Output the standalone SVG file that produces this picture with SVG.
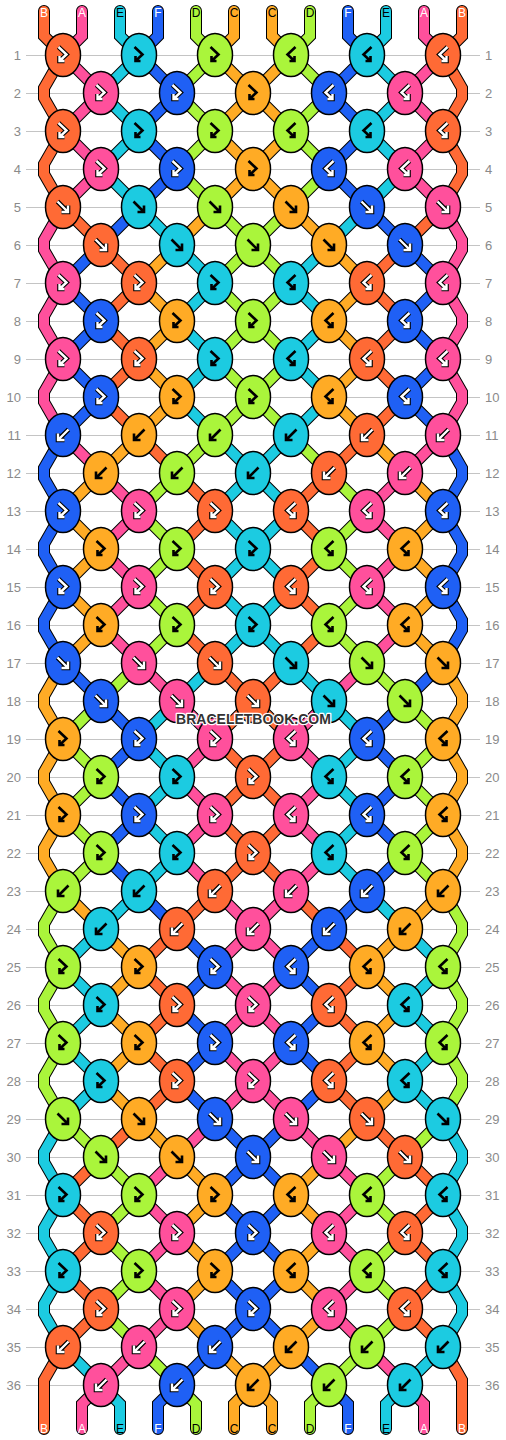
<svg xmlns="http://www.w3.org/2000/svg" xmlns:xlink="http://www.w3.org/1999/xlink" width="506" height="1440" viewBox="0 0 506 1440">
<style>
.bg{fill:#fff}
.gl{fill:none;stroke:#c4c4c4;stroke-width:1}
.num{font-family:"Liberation Sans",Arial,sans-serif;font-size:13px;fill:#8a8a8a}
.nl{text-anchor:end}
.lab{font-family:"Liberation Sans",Arial,sans-serif;font-size:12px;text-anchor:middle}
.lw{fill:#fff}.lk{fill:#000}
.o{fill:none;stroke:#000;stroke-width:12;stroke-linecap:round;stroke-miterlimit:4}
.s{fill:none;stroke-width:10;stroke-linecap:round;stroke-miterlimit:4}
.sA{stroke:#ff509c}.sB{stroke:#ff6a35}.sC{stroke:#ffab25}.sD{stroke:#aaf53b}.sE{stroke:#1ccbe1}.sF{stroke:#1f60f5}
.A{fill:#ff509c}.B{fill:#ff6a35}.C{fill:#ffab25}.D{fill:#aaf53b}.E{fill:#1ccbe1}.F{fill:#1f60f5}
.ao{fill:none;stroke:#000;stroke-width:4.6}
.aw{fill:none;stroke:#fff;stroke-width:2.4}
.ak{fill:none;stroke:#000;stroke-width:2.6}
.wm{font-family:"Liberation Sans",Arial,sans-serif;font-weight:bold;font-size:14px;text-anchor:middle;fill:#333;stroke:#fff;stroke-width:2.5;paint-order:stroke;stroke-linejoin:round}
</style>
<defs>
<ellipse id="e" rx="17.5" ry="21.5" stroke="#000" stroke-width="1.5"/>
<path id="df" d="M-5.5,-5.5L5,5M5,-1.5V5H-1.5"/>
<path id="db" d="M5.5,-5.5L-5,5M-5,-1.5V5H1.5"/>
<path id="dfb" d="M-4.5,-8L3.5,-0.5L-3.5,6M-3.5,1V6H1.5"/>
<path id="dbf" d="M4.5,-8L-3.5,-0.5L3.5,6M3.5,1V6H-1.5"/>
<g id="fW"><use href="#df" class="ao"/><use href="#df" class="aw"/></g>
<g id="fK"><use href="#df" class="ak"/></g>
<g id="bW"><use href="#db" class="ao"/><use href="#db" class="aw"/></g>
<g id="bK"><use href="#db" class="ak"/></g>
<g id="fbW"><use href="#dfb" class="ao"/><use href="#dfb" class="aw"/></g>
<g id="fbK"><use href="#dfb" class="ak"/></g>
<g id="bfW"><use href="#dbf" class="ao"/><use href="#dbf" class="aw"/></g>
<g id="bfK"><use href="#dbf" class="ak"/></g>
<path id="p0" d="M44,11V36L63,55L44,88V98L63,131L44,164V174L63,207L101,245L139,283L101,321L139,359L101,397L139,435L177,473L215,511L177,549L215,587L177,625L215,663L253,701L291,739L253,777L291,815L253,853L291,891L329,929L367,967L329,1005L367,1043L329,1081L367,1119L405,1157L443,1195L405,1233L443,1271L405,1309L443,1347L462,1380V1429"/>
<path id="p1" d="M82,11V36L63,55L101,93L63,131L101,169L63,207L44,240V250L63,283L44,316V326L63,359L44,392V402L63,435L101,473L139,511L101,549L139,587L101,625L139,663L177,701L215,739L177,777L215,815L177,853L215,891L253,929L291,967L253,1005L291,1043L253,1081L291,1119L329,1157L367,1195L329,1233L367,1271L329,1309L367,1347L405,1385L424,1404V1429"/>
<path id="p2" d="M120,11V36L139,55L101,93L139,131L101,169L139,207L177,245L215,283L177,321L215,359L177,397L215,435L253,473L291,511L253,549L291,587L253,625L291,663L329,701L367,739L329,777L367,815L329,853L367,891L405,929L443,967L405,1005L443,1043L405,1081L443,1119L462,1152V1162L443,1195L462,1228V1238L443,1271L462,1304V1314L443,1347L405,1385L386,1404V1429"/>
<path id="p3" d="M158,11V36L139,55L177,93L139,131L177,169L139,207L101,245L63,283L101,321L63,359L101,397L63,435L44,468V478L63,511L44,544V554L63,587L44,620V630L63,663L101,701L139,739L101,777L139,815L101,853L139,891L177,929L215,967L177,1005L215,1043L177,1081L215,1119L253,1157L291,1195L253,1233L291,1271L253,1309L291,1347L329,1385L348,1404V1429"/>
<path id="p4" d="M196,11V36L215,55L177,93L215,131L177,169L215,207L253,245L291,283L253,321L291,359L253,397L291,435L329,473L367,511L329,549L367,587L329,625L367,663L405,701L443,739L405,777L443,815L405,853L443,891L462,924V934L443,967L462,1000V1010L443,1043L462,1076V1086L443,1119L405,1157L367,1195L405,1233L367,1271L405,1309L367,1347L329,1385L310,1404V1429"/>
<path id="p5" d="M234,11V36L215,55L253,93L215,131L253,169L215,207L177,245L139,283L177,321L139,359L177,397L139,435L101,473L63,511L101,549L63,587L101,625L63,663L44,696V706L63,739L44,772V782L63,815L44,848V858L63,891L101,929L139,967L101,1005L139,1043L101,1081L139,1119L177,1157L215,1195L177,1233L215,1271L177,1309L215,1347L253,1385L272,1404V1429"/>
</defs>
<rect class="bg" x="0" y="0" width="506" height="1440"/>
<g id="grid">
<path class="gl" d="M26,55.5H480M26,93.5H480M26,131.5H480M26,169.5H480M26,207.5H480M26,245.5H480M26,283.5H480M26,321.5H480M26,359.5H480M26,397.5H480M26,435.5H480M26,473.5H480M26,511.5H480M26,549.5H480M26,587.5H480M26,625.5H480M26,663.5H480M26,701.5H480M26,739.5H480M26,777.5H480M26,815.5H480M26,853.5H480M26,891.5H480M26,929.5H480M26,967.5H480M26,1005.5H480M26,1043.5H480M26,1081.5H480M26,1119.5H480M26,1157.5H480M26,1195.5H480M26,1233.5H480M26,1271.5H480M26,1309.5H480M26,1347.5H480M26,1385.5H480"/>
<g class="num nl">
<text x="21" y="60">1</text><text x="21" y="98">2</text><text x="21" y="136">3</text><text x="21" y="174">4</text><text x="21" y="212">5</text><text x="21" y="250">6</text><text x="21" y="288">7</text><text x="21" y="326">8</text><text x="21" y="364">9</text><text x="21" y="402">10</text><text x="21" y="440">11</text><text x="21" y="478">12</text><text x="21" y="516">13</text><text x="21" y="554">14</text><text x="21" y="592">15</text><text x="21" y="630">16</text><text x="21" y="668">17</text><text x="21" y="706">18</text><text x="21" y="744">19</text><text x="21" y="782">20</text><text x="21" y="820">21</text><text x="21" y="858">22</text><text x="21" y="896">23</text><text x="21" y="934">24</text><text x="21" y="972">25</text><text x="21" y="1010">26</text><text x="21" y="1048">27</text><text x="21" y="1086">28</text><text x="21" y="1124">29</text><text x="21" y="1162">30</text><text x="21" y="1200">31</text><text x="21" y="1238">32</text><text x="21" y="1276">33</text><text x="21" y="1314">34</text><text x="21" y="1352">35</text><text x="21" y="1390">36</text>
</g>
<g class="num">
<text x="485" y="60">1</text><text x="485" y="98">2</text><text x="485" y="136">3</text><text x="485" y="174">4</text><text x="485" y="212">5</text><text x="485" y="250">6</text><text x="485" y="288">7</text><text x="485" y="326">8</text><text x="485" y="364">9</text><text x="485" y="402">10</text><text x="485" y="440">11</text><text x="485" y="478">12</text><text x="485" y="516">13</text><text x="485" y="554">14</text><text x="485" y="592">15</text><text x="485" y="630">16</text><text x="485" y="668">17</text><text x="485" y="706">18</text><text x="485" y="744">19</text><text x="485" y="782">20</text><text x="485" y="820">21</text><text x="485" y="858">22</text><text x="485" y="896">23</text><text x="485" y="934">24</text><text x="485" y="972">25</text><text x="485" y="1010">26</text><text x="485" y="1048">27</text><text x="485" y="1086">28</text><text x="485" y="1124">29</text><text x="485" y="1162">30</text><text x="485" y="1200">31</text><text x="485" y="1238">32</text><text x="485" y="1276">33</text><text x="485" y="1314">34</text><text x="485" y="1352">35</text><text x="485" y="1390">36</text>
</g>
</g>
<g id="connectors">
<use href="#p0" class="o"/><use href="#p1" class="o"/><use href="#p2" class="o"/><use href="#p3" class="o"/><use href="#p4" class="o"/><use href="#p5" class="o"/>
<g transform="matrix(-1 0 0 1 506 0)"><use href="#p0" class="o"/><use href="#p1" class="o"/><use href="#p2" class="o"/><use href="#p3" class="o"/><use href="#p4" class="o"/><use href="#p5" class="o"/></g>
<use href="#p0" class="s sB"/><use href="#p1" class="s sA"/><use href="#p2" class="s sE"/><use href="#p3" class="s sF"/><use href="#p4" class="s sD"/><use href="#p5" class="s sC"/>
<g transform="matrix(-1 0 0 1 506 0)"><use href="#p0" class="s sB"/><use href="#p1" class="s sA"/><use href="#p2" class="s sE"/><use href="#p3" class="s sF"/><use href="#p4" class="s sD"/><use href="#p5" class="s sC"/></g>
</g>
<g id="labels-top" class="lab">
<text x="44" y="17" class="lw">B</text><text x="82" y="17" class="lw">A</text><text x="120" y="17" class="lk">E</text><text x="158" y="17" class="lw">F</text><text x="196" y="17" class="lk">D</text><text x="234" y="17" class="lk">C</text><text x="272" y="17" class="lk">C</text><text x="310" y="17" class="lk">D</text><text x="348" y="17" class="lw">F</text><text x="386" y="17" class="lk">E</text><text x="424" y="17" class="lw">A</text><text x="462" y="17" class="lw">B</text>
</g>
<g id="labels-bottom" class="lab">
<text x="44" y="1433" class="lw">B</text><text x="82" y="1433" class="lw">A</text><text x="120" y="1433" class="lk">E</text><text x="158" y="1433" class="lw">F</text><text x="196" y="1433" class="lk">D</text><text x="234" y="1433" class="lk">C</text><text x="272" y="1433" class="lk">C</text><text x="310" y="1433" class="lk">D</text><text x="348" y="1433" class="lw">F</text><text x="386" y="1433" class="lk">E</text><text x="424" y="1433" class="lw">A</text><text x="462" y="1433" class="lw">B</text>
</g>
<g id="knots">
<g id="k1-1"><use href="#e" x="63" y="55" class="B"/><use href="#fbW" x="63" y="55"/></g>
<g id="k1-2"><use href="#e" x="139" y="55" class="E"/><use href="#fbK" x="139" y="55"/></g>
<g id="k1-3"><use href="#e" x="215" y="55" class="D"/><use href="#fbK" x="215" y="55"/></g>
<g id="k1-4"><use href="#e" x="291" y="55" class="D"/><use href="#bfK" x="291" y="55"/></g>
<g id="k1-5"><use href="#e" x="367" y="55" class="E"/><use href="#bfK" x="367" y="55"/></g>
<g id="k1-6"><use href="#e" x="443" y="55" class="B"/><use href="#bfW" x="443" y="55"/></g>
<g id="k2-1"><use href="#e" x="101" y="93" class="A"/><use href="#fbW" x="101" y="93"/></g>
<g id="k2-2"><use href="#e" x="177" y="93" class="F"/><use href="#fbW" x="177" y="93"/></g>
<g id="k2-3"><use href="#e" x="253" y="93" class="C"/><use href="#fbK" x="253" y="93"/></g>
<g id="k2-4"><use href="#e" x="329" y="93" class="F"/><use href="#bfW" x="329" y="93"/></g>
<g id="k2-5"><use href="#e" x="405" y="93" class="A"/><use href="#bfW" x="405" y="93"/></g>
<g id="k3-1"><use href="#e" x="63" y="131" class="B"/><use href="#fbW" x="63" y="131"/></g>
<g id="k3-2"><use href="#e" x="139" y="131" class="E"/><use href="#fbK" x="139" y="131"/></g>
<g id="k3-3"><use href="#e" x="215" y="131" class="D"/><use href="#fbK" x="215" y="131"/></g>
<g id="k3-4"><use href="#e" x="291" y="131" class="D"/><use href="#bfK" x="291" y="131"/></g>
<g id="k3-5"><use href="#e" x="367" y="131" class="E"/><use href="#bfK" x="367" y="131"/></g>
<g id="k3-6"><use href="#e" x="443" y="131" class="B"/><use href="#bfW" x="443" y="131"/></g>
<g id="k4-1"><use href="#e" x="101" y="169" class="A"/><use href="#fbW" x="101" y="169"/></g>
<g id="k4-2"><use href="#e" x="177" y="169" class="F"/><use href="#fbW" x="177" y="169"/></g>
<g id="k4-3"><use href="#e" x="253" y="169" class="C"/><use href="#fbK" x="253" y="169"/></g>
<g id="k4-4"><use href="#e" x="329" y="169" class="F"/><use href="#bfW" x="329" y="169"/></g>
<g id="k4-5"><use href="#e" x="405" y="169" class="A"/><use href="#bfW" x="405" y="169"/></g>
<g id="k5-1"><use href="#e" x="63" y="207" class="B"/><use href="#fW" x="63" y="207"/></g>
<g id="k5-2"><use href="#e" x="139" y="207" class="E"/><use href="#fK" x="139" y="207"/></g>
<g id="k5-3"><use href="#e" x="215" y="207" class="D"/><use href="#fK" x="215" y="207"/></g>
<g id="k5-4"><use href="#e" x="291" y="207" class="C"/><use href="#fK" x="291" y="207"/></g>
<g id="k5-5"><use href="#e" x="367" y="207" class="F"/><use href="#fW" x="367" y="207"/></g>
<g id="k5-6"><use href="#e" x="443" y="207" class="A"/><use href="#fW" x="443" y="207"/></g>
<g id="k6-1"><use href="#e" x="101" y="245" class="B"/><use href="#fW" x="101" y="245"/></g>
<g id="k6-2"><use href="#e" x="177" y="245" class="E"/><use href="#fK" x="177" y="245"/></g>
<g id="k6-3"><use href="#e" x="253" y="245" class="D"/><use href="#fK" x="253" y="245"/></g>
<g id="k6-4"><use href="#e" x="329" y="245" class="C"/><use href="#fK" x="329" y="245"/></g>
<g id="k6-5"><use href="#e" x="405" y="245" class="F"/><use href="#fW" x="405" y="245"/></g>
<g id="k7-1"><use href="#e" x="63" y="283" class="A"/><use href="#fbW" x="63" y="283"/></g>
<g id="k7-2"><use href="#e" x="139" y="283" class="B"/><use href="#fbW" x="139" y="283"/></g>
<g id="k7-3"><use href="#e" x="215" y="283" class="E"/><use href="#fbK" x="215" y="283"/></g>
<g id="k7-4"><use href="#e" x="291" y="283" class="E"/><use href="#bfK" x="291" y="283"/></g>
<g id="k7-5"><use href="#e" x="367" y="283" class="B"/><use href="#bfW" x="367" y="283"/></g>
<g id="k7-6"><use href="#e" x="443" y="283" class="A"/><use href="#bfW" x="443" y="283"/></g>
<g id="k8-1"><use href="#e" x="101" y="321" class="F"/><use href="#fbW" x="101" y="321"/></g>
<g id="k8-2"><use href="#e" x="177" y="321" class="C"/><use href="#fbK" x="177" y="321"/></g>
<g id="k8-3"><use href="#e" x="253" y="321" class="D"/><use href="#fbK" x="253" y="321"/></g>
<g id="k8-4"><use href="#e" x="329" y="321" class="C"/><use href="#bfK" x="329" y="321"/></g>
<g id="k8-5"><use href="#e" x="405" y="321" class="F"/><use href="#bfW" x="405" y="321"/></g>
<g id="k9-1"><use href="#e" x="63" y="359" class="A"/><use href="#fbW" x="63" y="359"/></g>
<g id="k9-2"><use href="#e" x="139" y="359" class="B"/><use href="#fbW" x="139" y="359"/></g>
<g id="k9-3"><use href="#e" x="215" y="359" class="E"/><use href="#fbK" x="215" y="359"/></g>
<g id="k9-4"><use href="#e" x="291" y="359" class="E"/><use href="#bfK" x="291" y="359"/></g>
<g id="k9-5"><use href="#e" x="367" y="359" class="B"/><use href="#bfW" x="367" y="359"/></g>
<g id="k9-6"><use href="#e" x="443" y="359" class="A"/><use href="#bfW" x="443" y="359"/></g>
<g id="k10-1"><use href="#e" x="101" y="397" class="F"/><use href="#fbW" x="101" y="397"/></g>
<g id="k10-2"><use href="#e" x="177" y="397" class="C"/><use href="#fbK" x="177" y="397"/></g>
<g id="k10-3"><use href="#e" x="253" y="397" class="D"/><use href="#fbK" x="253" y="397"/></g>
<g id="k10-4"><use href="#e" x="329" y="397" class="C"/><use href="#bfK" x="329" y="397"/></g>
<g id="k10-5"><use href="#e" x="405" y="397" class="F"/><use href="#bfW" x="405" y="397"/></g>
<g id="k11-1"><use href="#e" x="63" y="435" class="F"/><use href="#bW" x="63" y="435"/></g>
<g id="k11-2"><use href="#e" x="139" y="435" class="C"/><use href="#bK" x="139" y="435"/></g>
<g id="k11-3"><use href="#e" x="215" y="435" class="D"/><use href="#bK" x="215" y="435"/></g>
<g id="k11-4"><use href="#e" x="291" y="435" class="E"/><use href="#bK" x="291" y="435"/></g>
<g id="k11-5"><use href="#e" x="367" y="435" class="B"/><use href="#bW" x="367" y="435"/></g>
<g id="k11-6"><use href="#e" x="443" y="435" class="A"/><use href="#bW" x="443" y="435"/></g>
<g id="k12-1"><use href="#e" x="101" y="473" class="C"/><use href="#bK" x="101" y="473"/></g>
<g id="k12-2"><use href="#e" x="177" y="473" class="D"/><use href="#bK" x="177" y="473"/></g>
<g id="k12-3"><use href="#e" x="253" y="473" class="E"/><use href="#bK" x="253" y="473"/></g>
<g id="k12-4"><use href="#e" x="329" y="473" class="B"/><use href="#bW" x="329" y="473"/></g>
<g id="k12-5"><use href="#e" x="405" y="473" class="A"/><use href="#bW" x="405" y="473"/></g>
<g id="k13-1"><use href="#e" x="63" y="511" class="F"/><use href="#fbW" x="63" y="511"/></g>
<g id="k13-2"><use href="#e" x="139" y="511" class="A"/><use href="#fbW" x="139" y="511"/></g>
<g id="k13-3"><use href="#e" x="215" y="511" class="B"/><use href="#fbW" x="215" y="511"/></g>
<g id="k13-4"><use href="#e" x="291" y="511" class="B"/><use href="#bfW" x="291" y="511"/></g>
<g id="k13-5"><use href="#e" x="367" y="511" class="A"/><use href="#bfW" x="367" y="511"/></g>
<g id="k13-6"><use href="#e" x="443" y="511" class="F"/><use href="#bfW" x="443" y="511"/></g>
<g id="k14-1"><use href="#e" x="101" y="549" class="C"/><use href="#fbK" x="101" y="549"/></g>
<g id="k14-2"><use href="#e" x="177" y="549" class="D"/><use href="#fbK" x="177" y="549"/></g>
<g id="k14-3"><use href="#e" x="253" y="549" class="E"/><use href="#fbK" x="253" y="549"/></g>
<g id="k14-4"><use href="#e" x="329" y="549" class="D"/><use href="#bfK" x="329" y="549"/></g>
<g id="k14-5"><use href="#e" x="405" y="549" class="C"/><use href="#bfK" x="405" y="549"/></g>
<g id="k15-1"><use href="#e" x="63" y="587" class="F"/><use href="#fbW" x="63" y="587"/></g>
<g id="k15-2"><use href="#e" x="139" y="587" class="A"/><use href="#fbW" x="139" y="587"/></g>
<g id="k15-3"><use href="#e" x="215" y="587" class="B"/><use href="#fbW" x="215" y="587"/></g>
<g id="k15-4"><use href="#e" x="291" y="587" class="B"/><use href="#bfW" x="291" y="587"/></g>
<g id="k15-5"><use href="#e" x="367" y="587" class="A"/><use href="#bfW" x="367" y="587"/></g>
<g id="k15-6"><use href="#e" x="443" y="587" class="F"/><use href="#bfW" x="443" y="587"/></g>
<g id="k16-1"><use href="#e" x="101" y="625" class="C"/><use href="#fbK" x="101" y="625"/></g>
<g id="k16-2"><use href="#e" x="177" y="625" class="D"/><use href="#fbK" x="177" y="625"/></g>
<g id="k16-3"><use href="#e" x="253" y="625" class="E"/><use href="#fbK" x="253" y="625"/></g>
<g id="k16-4"><use href="#e" x="329" y="625" class="D"/><use href="#bfK" x="329" y="625"/></g>
<g id="k16-5"><use href="#e" x="405" y="625" class="C"/><use href="#bfK" x="405" y="625"/></g>
<g id="k17-1"><use href="#e" x="63" y="663" class="F"/><use href="#fW" x="63" y="663"/></g>
<g id="k17-2"><use href="#e" x="139" y="663" class="A"/><use href="#fW" x="139" y="663"/></g>
<g id="k17-3"><use href="#e" x="215" y="663" class="B"/><use href="#fW" x="215" y="663"/></g>
<g id="k17-4"><use href="#e" x="291" y="663" class="E"/><use href="#fK" x="291" y="663"/></g>
<g id="k17-5"><use href="#e" x="367" y="663" class="D"/><use href="#fK" x="367" y="663"/></g>
<g id="k17-6"><use href="#e" x="443" y="663" class="C"/><use href="#fK" x="443" y="663"/></g>
<g id="k18-1"><use href="#e" x="101" y="701" class="F"/><use href="#fW" x="101" y="701"/></g>
<g id="k18-2"><use href="#e" x="177" y="701" class="A"/><use href="#fW" x="177" y="701"/></g>
<g id="k18-3"><use href="#e" x="253" y="701" class="B"/><use href="#fW" x="253" y="701"/></g>
<g id="k18-4"><use href="#e" x="329" y="701" class="E"/><use href="#fK" x="329" y="701"/></g>
<g id="k18-5"><use href="#e" x="405" y="701" class="D"/><use href="#fK" x="405" y="701"/></g>
<g id="k19-1"><use href="#e" x="63" y="739" class="C"/><use href="#fbK" x="63" y="739"/></g>
<g id="k19-2"><use href="#e" x="139" y="739" class="F"/><use href="#fbW" x="139" y="739"/></g>
<g id="k19-3"><use href="#e" x="215" y="739" class="A"/><use href="#fbW" x="215" y="739"/></g>
<g id="k19-4"><use href="#e" x="291" y="739" class="A"/><use href="#bfW" x="291" y="739"/></g>
<g id="k19-5"><use href="#e" x="367" y="739" class="F"/><use href="#bfW" x="367" y="739"/></g>
<g id="k19-6"><use href="#e" x="443" y="739" class="C"/><use href="#bfK" x="443" y="739"/></g>
<g id="k20-1"><use href="#e" x="101" y="777" class="D"/><use href="#fbK" x="101" y="777"/></g>
<g id="k20-2"><use href="#e" x="177" y="777" class="E"/><use href="#fbK" x="177" y="777"/></g>
<g id="k20-3"><use href="#e" x="253" y="777" class="B"/><use href="#fbW" x="253" y="777"/></g>
<g id="k20-4"><use href="#e" x="329" y="777" class="E"/><use href="#bfK" x="329" y="777"/></g>
<g id="k20-5"><use href="#e" x="405" y="777" class="D"/><use href="#bfK" x="405" y="777"/></g>
<g id="k21-1"><use href="#e" x="63" y="815" class="C"/><use href="#fbK" x="63" y="815"/></g>
<g id="k21-2"><use href="#e" x="139" y="815" class="F"/><use href="#fbW" x="139" y="815"/></g>
<g id="k21-3"><use href="#e" x="215" y="815" class="A"/><use href="#fbW" x="215" y="815"/></g>
<g id="k21-4"><use href="#e" x="291" y="815" class="A"/><use href="#bfW" x="291" y="815"/></g>
<g id="k21-5"><use href="#e" x="367" y="815" class="F"/><use href="#bfW" x="367" y="815"/></g>
<g id="k21-6"><use href="#e" x="443" y="815" class="C"/><use href="#bfK" x="443" y="815"/></g>
<g id="k22-1"><use href="#e" x="101" y="853" class="D"/><use href="#fbK" x="101" y="853"/></g>
<g id="k22-2"><use href="#e" x="177" y="853" class="E"/><use href="#fbK" x="177" y="853"/></g>
<g id="k22-3"><use href="#e" x="253" y="853" class="B"/><use href="#fbW" x="253" y="853"/></g>
<g id="k22-4"><use href="#e" x="329" y="853" class="E"/><use href="#bfK" x="329" y="853"/></g>
<g id="k22-5"><use href="#e" x="405" y="853" class="D"/><use href="#bfK" x="405" y="853"/></g>
<g id="k23-1"><use href="#e" x="63" y="891" class="D"/><use href="#bK" x="63" y="891"/></g>
<g id="k23-2"><use href="#e" x="139" y="891" class="E"/><use href="#bK" x="139" y="891"/></g>
<g id="k23-3"><use href="#e" x="215" y="891" class="B"/><use href="#bW" x="215" y="891"/></g>
<g id="k23-4"><use href="#e" x="291" y="891" class="A"/><use href="#bW" x="291" y="891"/></g>
<g id="k23-5"><use href="#e" x="367" y="891" class="F"/><use href="#bW" x="367" y="891"/></g>
<g id="k23-6"><use href="#e" x="443" y="891" class="C"/><use href="#bK" x="443" y="891"/></g>
<g id="k24-1"><use href="#e" x="101" y="929" class="E"/><use href="#bK" x="101" y="929"/></g>
<g id="k24-2"><use href="#e" x="177" y="929" class="B"/><use href="#bW" x="177" y="929"/></g>
<g id="k24-3"><use href="#e" x="253" y="929" class="A"/><use href="#bW" x="253" y="929"/></g>
<g id="k24-4"><use href="#e" x="329" y="929" class="F"/><use href="#bW" x="329" y="929"/></g>
<g id="k24-5"><use href="#e" x="405" y="929" class="C"/><use href="#bK" x="405" y="929"/></g>
<g id="k25-1"><use href="#e" x="63" y="967" class="D"/><use href="#fbK" x="63" y="967"/></g>
<g id="k25-2"><use href="#e" x="139" y="967" class="C"/><use href="#fbK" x="139" y="967"/></g>
<g id="k25-3"><use href="#e" x="215" y="967" class="F"/><use href="#fbW" x="215" y="967"/></g>
<g id="k25-4"><use href="#e" x="291" y="967" class="F"/><use href="#bfW" x="291" y="967"/></g>
<g id="k25-5"><use href="#e" x="367" y="967" class="C"/><use href="#bfK" x="367" y="967"/></g>
<g id="k25-6"><use href="#e" x="443" y="967" class="D"/><use href="#bfK" x="443" y="967"/></g>
<g id="k26-1"><use href="#e" x="101" y="1005" class="E"/><use href="#fbK" x="101" y="1005"/></g>
<g id="k26-2"><use href="#e" x="177" y="1005" class="B"/><use href="#fbW" x="177" y="1005"/></g>
<g id="k26-3"><use href="#e" x="253" y="1005" class="A"/><use href="#fbW" x="253" y="1005"/></g>
<g id="k26-4"><use href="#e" x="329" y="1005" class="B"/><use href="#bfW" x="329" y="1005"/></g>
<g id="k26-5"><use href="#e" x="405" y="1005" class="E"/><use href="#bfK" x="405" y="1005"/></g>
<g id="k27-1"><use href="#e" x="63" y="1043" class="D"/><use href="#fbK" x="63" y="1043"/></g>
<g id="k27-2"><use href="#e" x="139" y="1043" class="C"/><use href="#fbK" x="139" y="1043"/></g>
<g id="k27-3"><use href="#e" x="215" y="1043" class="F"/><use href="#fbW" x="215" y="1043"/></g>
<g id="k27-4"><use href="#e" x="291" y="1043" class="F"/><use href="#bfW" x="291" y="1043"/></g>
<g id="k27-5"><use href="#e" x="367" y="1043" class="C"/><use href="#bfK" x="367" y="1043"/></g>
<g id="k27-6"><use href="#e" x="443" y="1043" class="D"/><use href="#bfK" x="443" y="1043"/></g>
<g id="k28-1"><use href="#e" x="101" y="1081" class="E"/><use href="#fbK" x="101" y="1081"/></g>
<g id="k28-2"><use href="#e" x="177" y="1081" class="B"/><use href="#fbW" x="177" y="1081"/></g>
<g id="k28-3"><use href="#e" x="253" y="1081" class="A"/><use href="#fbW" x="253" y="1081"/></g>
<g id="k28-4"><use href="#e" x="329" y="1081" class="B"/><use href="#bfW" x="329" y="1081"/></g>
<g id="k28-5"><use href="#e" x="405" y="1081" class="E"/><use href="#bfK" x="405" y="1081"/></g>
<g id="k29-1"><use href="#e" x="63" y="1119" class="D"/><use href="#fK" x="63" y="1119"/></g>
<g id="k29-2"><use href="#e" x="139" y="1119" class="C"/><use href="#fK" x="139" y="1119"/></g>
<g id="k29-3"><use href="#e" x="215" y="1119" class="F"/><use href="#fW" x="215" y="1119"/></g>
<g id="k29-4"><use href="#e" x="291" y="1119" class="A"/><use href="#fW" x="291" y="1119"/></g>
<g id="k29-5"><use href="#e" x="367" y="1119" class="B"/><use href="#fW" x="367" y="1119"/></g>
<g id="k29-6"><use href="#e" x="443" y="1119" class="E"/><use href="#fK" x="443" y="1119"/></g>
<g id="k30-1"><use href="#e" x="101" y="1157" class="D"/><use href="#fK" x="101" y="1157"/></g>
<g id="k30-2"><use href="#e" x="177" y="1157" class="C"/><use href="#fK" x="177" y="1157"/></g>
<g id="k30-3"><use href="#e" x="253" y="1157" class="F"/><use href="#fW" x="253" y="1157"/></g>
<g id="k30-4"><use href="#e" x="329" y="1157" class="A"/><use href="#fW" x="329" y="1157"/></g>
<g id="k30-5"><use href="#e" x="405" y="1157" class="B"/><use href="#fW" x="405" y="1157"/></g>
<g id="k31-1"><use href="#e" x="63" y="1195" class="E"/><use href="#fbK" x="63" y="1195"/></g>
<g id="k31-2"><use href="#e" x="139" y="1195" class="D"/><use href="#fbK" x="139" y="1195"/></g>
<g id="k31-3"><use href="#e" x="215" y="1195" class="C"/><use href="#fbK" x="215" y="1195"/></g>
<g id="k31-4"><use href="#e" x="291" y="1195" class="C"/><use href="#bfK" x="291" y="1195"/></g>
<g id="k31-5"><use href="#e" x="367" y="1195" class="D"/><use href="#bfK" x="367" y="1195"/></g>
<g id="k31-6"><use href="#e" x="443" y="1195" class="E"/><use href="#bfK" x="443" y="1195"/></g>
<g id="k32-1"><use href="#e" x="101" y="1233" class="B"/><use href="#fbW" x="101" y="1233"/></g>
<g id="k32-2"><use href="#e" x="177" y="1233" class="A"/><use href="#fbW" x="177" y="1233"/></g>
<g id="k32-3"><use href="#e" x="253" y="1233" class="F"/><use href="#fbW" x="253" y="1233"/></g>
<g id="k32-4"><use href="#e" x="329" y="1233" class="A"/><use href="#bfW" x="329" y="1233"/></g>
<g id="k32-5"><use href="#e" x="405" y="1233" class="B"/><use href="#bfW" x="405" y="1233"/></g>
<g id="k33-1"><use href="#e" x="63" y="1271" class="E"/><use href="#fbK" x="63" y="1271"/></g>
<g id="k33-2"><use href="#e" x="139" y="1271" class="D"/><use href="#fbK" x="139" y="1271"/></g>
<g id="k33-3"><use href="#e" x="215" y="1271" class="C"/><use href="#fbK" x="215" y="1271"/></g>
<g id="k33-4"><use href="#e" x="291" y="1271" class="C"/><use href="#bfK" x="291" y="1271"/></g>
<g id="k33-5"><use href="#e" x="367" y="1271" class="D"/><use href="#bfK" x="367" y="1271"/></g>
<g id="k33-6"><use href="#e" x="443" y="1271" class="E"/><use href="#bfK" x="443" y="1271"/></g>
<g id="k34-1"><use href="#e" x="101" y="1309" class="B"/><use href="#fbW" x="101" y="1309"/></g>
<g id="k34-2"><use href="#e" x="177" y="1309" class="A"/><use href="#fbW" x="177" y="1309"/></g>
<g id="k34-3"><use href="#e" x="253" y="1309" class="F"/><use href="#fbW" x="253" y="1309"/></g>
<g id="k34-4"><use href="#e" x="329" y="1309" class="A"/><use href="#bfW" x="329" y="1309"/></g>
<g id="k34-5"><use href="#e" x="405" y="1309" class="B"/><use href="#bfW" x="405" y="1309"/></g>
<g id="k35-1"><use href="#e" x="63" y="1347" class="B"/><use href="#bW" x="63" y="1347"/></g>
<g id="k35-2"><use href="#e" x="139" y="1347" class="A"/><use href="#bW" x="139" y="1347"/></g>
<g id="k35-3"><use href="#e" x="215" y="1347" class="F"/><use href="#bW" x="215" y="1347"/></g>
<g id="k35-4"><use href="#e" x="291" y="1347" class="C"/><use href="#bK" x="291" y="1347"/></g>
<g id="k35-5"><use href="#e" x="367" y="1347" class="D"/><use href="#bK" x="367" y="1347"/></g>
<g id="k35-6"><use href="#e" x="443" y="1347" class="E"/><use href="#bK" x="443" y="1347"/></g>
<g id="k36-1"><use href="#e" x="101" y="1385" class="A"/><use href="#bW" x="101" y="1385"/></g>
<g id="k36-2"><use href="#e" x="177" y="1385" class="F"/><use href="#bW" x="177" y="1385"/></g>
<g id="k36-3"><use href="#e" x="253" y="1385" class="C"/><use href="#bK" x="253" y="1385"/></g>
<g id="k36-4"><use href="#e" x="329" y="1385" class="D"/><use href="#bK" x="329" y="1385"/></g>
<g id="k36-5"><use href="#e" x="405" y="1385" class="E"/><use href="#bK" x="405" y="1385"/></g>
</g>
<text class="wm" x="253.5" y="724">BRACELETBOOK.COM</text>
</svg>
